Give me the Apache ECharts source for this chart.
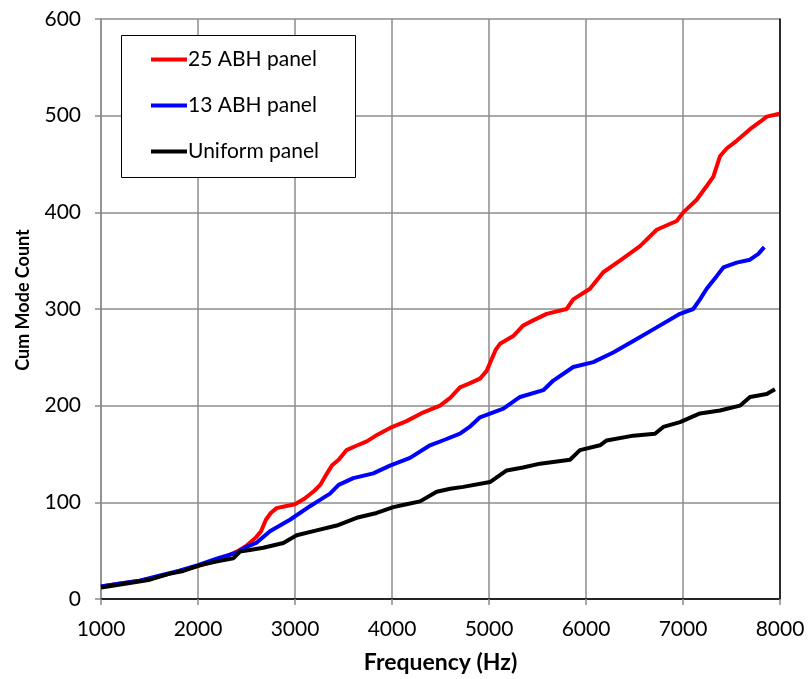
<!DOCTYPE html>
<html>
<head>
<meta charset="utf-8">
<script src="https://cdn.jsdelivr.net/npm/echarts@6/dist/echarts.min.js"></script>
<style>
  html, body { margin: 0; padding: 0; background: #fff; }
  #modeChart { width: 809px; height: 679px; }
</style>
</head>
<body>
<div id="modeChart"></div>
<script>
// values (Hz, cumulative count)
const redFreq = [1000, 1200, 1400, 1500, 1700, 1850, 2000, 2200, 2400, 2500, 2600, 2650, 2700, 2750, 2810, 2900, 3000, 3100, 3200, 3260, 3330, 3380, 3450, 3530, 3620, 3740, 3850, 3980, 4150, 4300, 4495, 4600, 4701, 4800, 4907, 4976, 5027, 5070, 5113, 5250, 5353, 5450, 5594, 5800, 5868, 6041, 6178, 6350, 6557, 6729, 6935, 7003, 7141, 7250, 7313, 7381, 7450, 7553, 7691, 7800, 7863, 7993];
const redCount = [13, 16, 19, 21, 26, 30, 34, 40, 49, 55, 64, 70, 82, 89, 94, 96, 98, 104, 112, 118, 130, 138, 144, 154, 158, 163, 170, 177, 184, 192, 200, 208, 219, 223, 228, 236, 248, 258, 264, 272, 283, 288, 295, 300, 310, 321, 338, 350, 365, 382, 391, 400, 413, 428, 437, 458, 466, 474, 486, 494, 499, 502];

const blueFreq = [1000, 1200, 1400, 1600, 1800, 2000, 2200, 2400, 2500, 2600, 2742, 2948, 3155, 3250, 3361, 3450, 3601, 3807, 3979, 4186, 4392, 4550, 4701, 4800, 4907, 5148, 5320, 5560, 5663, 5869, 6075, 6281, 6488, 6729, 6969, 7106, 7175, 7244, 7347, 7416, 7553, 7691, 7777, 7838];
const blueCount = [13, 16, 19, 24, 29, 35, 42, 48, 54, 58, 70, 82, 96, 102, 109, 118, 125, 130, 138, 146, 159, 165, 171, 178, 188, 197, 209, 216, 226, 240, 245, 255, 267, 281, 295, 300, 310, 321, 334, 343, 348, 351, 357, 364];

const blackFreq = [1000, 1200, 1505, 1700, 1849, 2021, 2200, 2364, 2433, 2550, 2673, 2880, 3017, 3223, 3430, 3636, 3842, 4014, 4150, 4289, 4461, 4600, 4735, 5010, 5182, 5350, 5526, 5835, 5938, 6144, 6213, 6488, 6711, 6797, 6969, 7175, 7381, 7587, 7691, 7863, 7948];
const blackCount = [12, 15, 20, 26, 29, 35, 39, 42, 49, 51, 53, 58, 66, 71, 76, 84, 89, 95, 98, 101, 111, 114, 116, 121, 133, 136, 140, 144, 154, 159, 164, 169, 171, 178, 183, 192, 195, 200, 209, 212, 217];

const seriesNames = ['25 ABH panel', '13 ABH panel', 'Uniform panel'];

function pairs(xs, ys) {
  return xs.map((x, i) => [x, ys[i]]);
}

const chart = echarts.init(document.getElementById('modeChart'));
const font = 'Lato, "Open Sans", sans-serif';
const gridGrey = '#8c8c8c';

function line(name, xs, ys, color) {
  return {
    name: name,
    type: 'line',
    data: pairs(xs, ys),
    symbol: 'none',
    smooth: false,
    lineStyle: { color: color, width: 4 },
    itemStyle: { color: color },
  };
}

const option = {
  backgroundColor: '#fff',
  animation: false,
  grid: { left: 101, right: 29, top: 19, bottom: 78 },
  graphic: [
    {
      type: 'rect',
      left: 121, top: 35,
      shape: { width: 234, height: 142 },
      style: { fill: '#fff', stroke: '#000', lineWidth: 1 },
      z: 10,
    },
  ],
  legend: {
    orient: 'vertical',
    left: 146, top: 44,
    icon: 'rect',
    itemWidth: 36, itemHeight: 4, itemGap: 25,
    data: seriesNames,
    textStyle: { fontFamily: font, fontSize: 21, color: '#000', padding: [0, 0, 0, -4] },
    z: 11,
  },
  xAxis: [
    {
      type: 'value',
      min: 1000, max: 8000, interval: 1000,
      name: 'Frequency (Hz)',
      nameLocation: 'middle',
      nameGap: 52,
      nameTextStyle: { fontFamily: font, fontSize: 23, fontWeight: 'bold', color: '#000' },
      axisLine: { show: true, lineStyle: { color: gridGrey, width: 1.5 } },
      axisTick: { show: true, length: 6, lineStyle: { color: gridGrey, width: 1.5 } },
      axisLabel: { fontFamily: font, fontSize: 21, color: '#000', margin: 20, formatter: (v) => String(v) },
      splitLine: { show: true, lineStyle: { color: gridGrey, width: 1.5 } },
    },
    {
      type: 'value', position: 'top',
      min: 1000, max: 8000,
      axisLine: { show: true, lineStyle: { color: '#000', width: 1.5 } },
      axisTick: { show: false }, axisLabel: { show: false }, splitLine: { show: false },
    },
  ],
  yAxis: [
    {
      type: 'value',
      min: 0, max: 600, interval: 100,
      name: 'Cum Mode Count',
      nameLocation: 'middle',
      nameGap: 69,
      nameTextStyle: { fontFamily: font, fontSize: 18, fontWeight: 'bold', color: '#000', padding: [0, 0, 0, 18] },
      axisLine: { show: true, lineStyle: { color: gridGrey, width: 1.5 } },
      axisTick: { show: true, length: 6, lineStyle: { color: gridGrey, width: 1.5 } },
      axisLabel: { fontFamily: font, fontSize: 21, color: '#000', margin: 20 },
      splitLine: { show: true, lineStyle: { color: gridGrey, width: 1.5 } },
    },
    {
      type: 'value', position: 'right',
      min: 0, max: 600,
      axisLine: { show: true, lineStyle: { color: '#000', width: 1.5 } },
      axisTick: { show: false }, axisLabel: { show: false }, splitLine: { show: false },
    },
  ],
  series: [
    line(seriesNames[0], redFreq, redCount, '#ff0000'),
    line(seriesNames[1], blueFreq, blueCount, '#0000ff'),
    line(seriesNames[2], blackFreq, blackCount, '#000000'),
  ],
};

option && chart.setOption(option);
</script>
</body>
</html>
